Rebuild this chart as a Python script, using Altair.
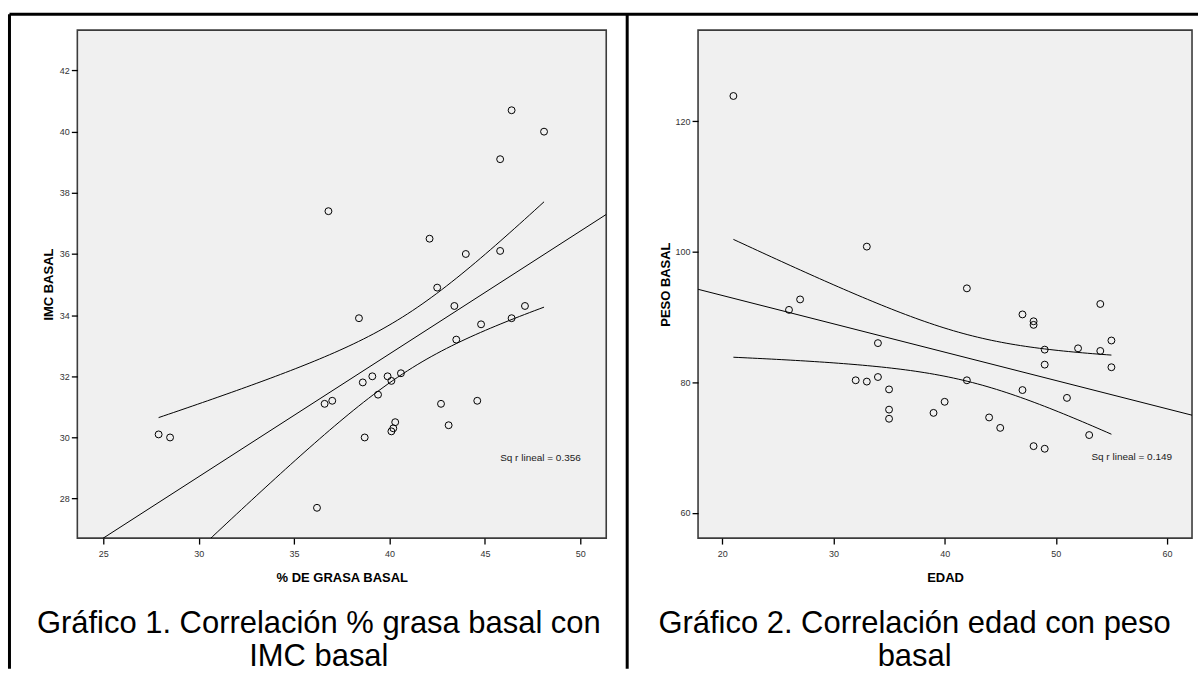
import altair as alt
import pandas as pd
import numpy as np

# ---------------- Gráfico 1: % grasa basal vs IMC basal ----------------
grasa = [46.4, 48.1, 45.8, 36.8, 42.1, 44.0, 45.8, 42.5, 43.4, 38.4, 47.1, 46.4, 44.8, 43.5,
         39.1, 38.6, 39.9, 40.1, 40.6, 39.4, 36.6, 37.0, 42.7, 44.6, 40.3, 40.2, 40.1, 43.1,
         38.7, 36.2, 27.9, 28.5]
imc = [40.7, 40.0, 39.1, 37.4, 36.5, 36.0, 36.1, 34.9, 34.3, 33.9, 34.3, 33.9, 33.7, 33.2,
       32.0, 31.8, 32.0, 31.85, 32.1, 31.4, 31.1, 31.2, 31.1, 31.2, 30.5, 30.3, 30.2, 30.4,
       30.0, 27.7, 30.1, 30.0]
x1_domain = [23.64, 51.36]
y1_domain = [26.71, 43.32]
x1_ticks = [25, 30, 35, 40, 45, 50]
y1_ticks = [28, 30, 32, 34, 36, 38, 40, 42]
r2_1_text = ["Sq r lineal = 0.356"]
r2_1_pos = [45.8, 29.32]
caption1 = ["Gráfico 1. Correlación % grasa basal con", "IMC basal"]

# ---------------- Gráfico 2: edad vs peso basal ----------------
edad = [21, 33, 27, 26, 34, 32, 33, 34, 35, 35, 35, 39, 42, 47, 48, 48, 54, 55, 49, 52,
        54, 49, 55, 42, 47, 51, 40, 44, 45, 53, 48, 49]
peso = [123.9, 100.8, 92.7, 91.1, 86.0, 80.3, 80.1, 80.8, 78.9, 75.8, 74.4, 75.3, 94.4, 90.4,
        89.35, 88.8, 92.0, 86.4, 85.0, 85.2, 84.8, 82.7, 82.3, 80.3, 78.8, 77.6, 77.0, 74.6,
        73.0, 71.9, 70.2, 69.8]
x2_domain = [17.82, 62.25]
y2_domain = [56.1, 134.0]
x2_ticks = [20, 30, 40, 50, 60]
y2_ticks = [60, 80, 100, 120]
r2_2_text = ["Sq r lineal = 0.149"]
r2_2_pos = [53.2, 68.5]
caption2 = ["Gráfico 2. Correlación edad con peso", "basal"]

FONT = "Liberation Sans"
T_975_DF30 = 2.0423


def fit_lines(x, y, xdom):
    x = np.asarray(x, float)
    y = np.asarray(y, float)
    n = len(x)
    b, a = np.polyfit(x, y, 1)
    resid = y - (a + b * x)
    s = np.sqrt(np.sum(resid ** 2) / (n - 2))
    xm = x.mean()
    sxx = np.sum((x - xm) ** 2)
    rows = []
    for xv in xdom:
        rows.append({"x": xv, "y": a + b * xv, "serie": "fit"})
    xs = np.linspace(x.min(), x.max(), 80)
    se = s * np.sqrt(1.0 / n + (xs - xm) ** 2 / sxx)
    for xv, sv in zip(xs, se):
        rows.append({"x": xv, "y": a + b * xv + T_975_DF30 * sv, "serie": "upper"})
        rows.append({"x": xv, "y": a + b * xv - T_975_DF30 * sv, "serie": "lower"})
    return pd.DataFrame(rows)


def panel(xv, yv, xdom, ydom, xticks, yticks, xtitle, ytitle, r2text, r2pos,
          caption, cap_x, ytitle_x, w, h, frame=False):
    pts = pd.DataFrame({"x": xv, "y": yv})
    xs = alt.Scale(domain=xdom, nice=False, zero=False)
    ys = alt.Scale(domain=ydom, nice=False, zero=False)
    common = dict(grid=False, domain=False, tickColor="black", tickSize=6, tickWidth=1.3,
                  labelFontSize=9, labelColor="#333333", labelFont=FONT,
                  titleFont=FONT, titleFontSize=13, titleFontWeight="bold",
                  titleColor="black")
    xaxis = alt.Axis(values=xticks, title=xtitle, labelPadding=5, titleY=40,
                     titleBaseline="middle", **common)
    yaxis = alt.Axis(values=yticks, title=ytitle, labelPadding=2, titleX=ytitle_x,
                     titleBaseline="middle", **common)

    base_pts = alt.Chart(pts).mark_point(
        shape="circle", filled=False, size=48, color="black", strokeWidth=1, opacity=1
    ).encode(x=alt.X("x:Q", scale=xs, axis=xaxis), y=alt.Y("y:Q", scale=ys, axis=yaxis))

    lines = alt.Chart(fit_lines(xv, yv, xdom)).mark_line(
        color="black", strokeWidth=1, clip=True
    ).encode(x=alt.X("x:Q", scale=xs), y=alt.Y("y:Q", scale=ys), detail="serie:N")

    ann = alt.Chart(pd.DataFrame({"x": [r2pos[0]], "y": [r2pos[1]], "t": r2text})).mark_text(
        align="left", baseline="middle", fontSize=10, font=FONT, color="#222222"
    ).encode(x=alt.X("x:Q", scale=xs), y=alt.Y("y:Q", scale=ys), text="t:N")

    cap = alt.Chart(pd.DataFrame({"a": [0]})).mark_text(
        align="center", baseline="alphabetic", fontSize=31, font=FONT, color="black",
        lineHeight=33
    ).encode(x=alt.value(cap_x), y=alt.value(h + 95), text=alt.value(caption))

    layers = [lines, base_pts, ann, cap]
    if frame:
        one = pd.DataFrame({"a": [0]})
        top = alt.Chart(one).mark_rule(color="black", strokeWidth=3).encode(
            x=alt.value(-68), x2=alt.value(1123), y=alt.value(-16))
        left = alt.Chart(one).mark_rule(color="black", strokeWidth=3).encode(
            x=alt.value(-68), y=alt.value(-16), y2=alt.value(640))
        mid = alt.Chart(one).mark_rule(color="black", strokeWidth=3).encode(
            x=alt.value(w + 21), y=alt.value(-16), y2=alt.value(640))
        layers += [top, left, mid]
    return alt.layer(*layers).properties(width=w, height=h)


left = panel(grasa, imc, x1_domain, y1_domain, x1_ticks, y1_ticks, "% DE GRASA BASAL",
             "IMC BASAL", r2_1_text, r2_1_pos, caption1, 242, -29, 530, 509, frame=True)
right = panel(edad, peso, x2_domain, y2_domain, x2_ticks, y2_ticks, "EDAD", "PESO BASAL",
              r2_2_text, r2_2_pos, caption2, 217, -33, 495, 509)

chart = alt.hconcat(left, right, spacing=92, bounds="flush").properties(
    padding={"left": 6.5, "top": 10.5, "right": 0, "bottom": 0},
    background="white",
).configure_view(fill="#F0F0F0", stroke="#3c3c3c", strokeWidth=1.6)

chart.save("out.html", embed_options={"renderer": "svg", "actions": False})
